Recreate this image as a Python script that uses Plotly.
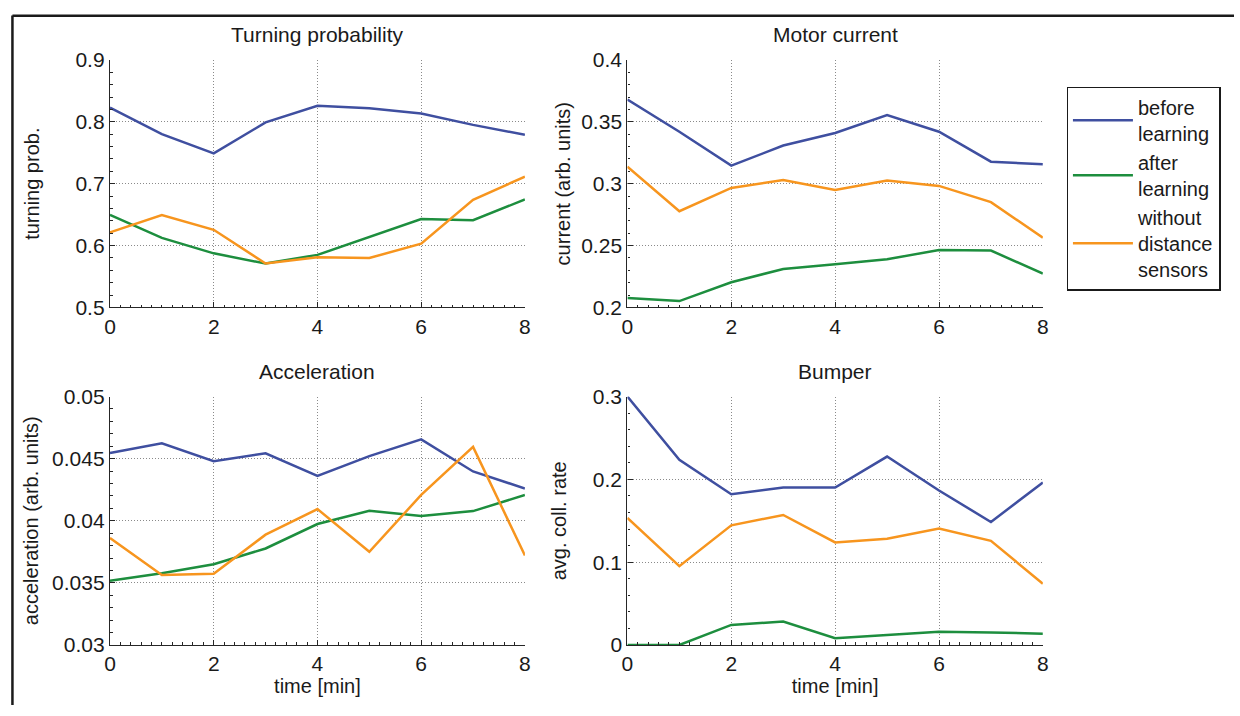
import plotly.graph_objects as go

time_min = [0, 1, 2, 3, 4, 5, 6, 7, 8]
series_names = ["before<br>learning", "after<br>learning", "without<br>distance<br>sensors"]
series_colors = ["#3f4fa0", "#1d8e3e", "#f7951e"]

# Turning probability
turn_before = [0.823, 0.780, 0.749, 0.799, 0.826, 0.822, 0.8135, 0.795, 0.779]
turn_after = [0.6495, 0.6125, 0.5875, 0.571, 0.585, 0.614, 0.643, 0.641, 0.6745]
turn_nosens = [0.6214, 0.6495, 0.6255, 0.571, 0.581, 0.580, 0.603, 0.674, 0.7115]

# Motor current
curr_before = [0.368, 0.342, 0.3146, 0.3308, 0.341, 0.3554, 0.342, 0.3178, 0.3157]
curr_after = [0.2076, 0.2052, 0.2204, 0.2311, 0.235, 0.2389, 0.2465, 0.246, 0.2274]
curr_nosens = [0.3138, 0.2778, 0.2966, 0.3029, 0.295, 0.3026, 0.2982, 0.2851, 0.2564]

# Acceleration
acc_before = [0.04545, 0.04623, 0.0448, 0.04543, 0.04361, 0.0452, 0.04655, 0.04397, 0.0426]
acc_after = [0.03517, 0.03577, 0.0365, 0.03777, 0.03974, 0.0408, 0.04039, 0.04078, 0.04208]
acc_nosens = [0.03862, 0.03564, 0.03574, 0.03888, 0.04094, 0.0375, 0.04208, 0.04595, 0.0372]

# Bumper
bump_before = [0.300, 0.2236, 0.182, 0.1901, 0.1901, 0.2275, 0.1866, 0.1485, 0.1963]
bump_after = [0.0, 0.0, 0.0242, 0.0284, 0.0082, 0.0121, 0.016, 0.0152, 0.0136]
bump_nosens = [0.1535, 0.0951, 0.1445, 0.157, 0.1239, 0.1282, 0.1406, 0.1258, 0.074]

panel_titles = ["Turning probability", "Motor current", "Acceleration", "Bumper"]
y_titles = ["turning prob.", "current (arb. units)", "acceleration (arb. units)", "avg. coll. rate"]
x_title = "time [min]"
y_ranges = [[0.5, 0.9], [0.2, 0.4], [0.03, 0.05], [0, 0.3]]
y_dticks = [0.1, 0.05, 0.005, 0.1]
y_tickfmt = [".1f", "", "", ""]
panels = [
    [turn_before, turn_after, turn_nosens],
    [curr_before, curr_after, curr_nosens],
    [acc_before, acc_after, acc_nosens],
    [bump_before, bump_after, bump_nosens],
]

FONT = "Liberation Sans, Arial, Helvetica, sans-serif"
TXT = "#1a1a1a"
W, H = 1240, 716
xdoms = [[105 / W, 524 / W], [627.5 / W, 1047 / W]]
ydoms = [[1 - 305.3 / H, 1 - 49.5 / H], [1 - 654 / H, 1 - 397.3 / H]]
title_std = [30, 5, 8, 20]

fig = go.Figure()
layout = {}
for i in range(4):
    r, c = divmod(i, 2)
    xa = "x" if i == 0 else f"x{i+1}"
    ya = "y" if i == 0 else f"y{i+1}"
    for k in range(3):
        fig.add_trace(go.Scatter(
            x=time_min, y=panels[i][k], mode="lines", xaxis=xa, yaxis=ya,
            name=series_names[k], legendgroup=str(k), showlegend=(i == 0),
            line=dict(color=series_colors[k], width=2.5), cliponaxis=False,
        ))
    common = dict(
        showline=True, linecolor="#262626", linewidth=1.3, mirror=False,
        showgrid=True, gridcolor="#8a8a8a", griddash="1px,2px", gridwidth=1,
        zeroline=False, ticks="inside", ticklen=5, tickcolor="#262626",
        tickfont=dict(family=FONT, size=21, color=TXT),
    )
    layout["xaxis" if i == 0 else f"xaxis{i+1}"] = dict(
        common, domain=xdoms[c], anchor=ya, range=[0, 8], dtick=2, tick0=0,
        minor=dict(dtick=0.2, ticks="inside", ticklen=2.5, tickcolor="#262626", showgrid=False),
        title=dict(text=x_title if r == 1 else "", font=dict(family=FONT, size=20, color=TXT), standoff=0),
    )
    layout["yaxis" if i == 0 else f"yaxis{i+1}"] = dict(
        common, domain=ydoms[r], anchor=xa, range=y_ranges[i], dtick=y_dticks[i], tick0=0,
        tickformat=y_tickfmt[i],
        minor=dict(dtick=y_dticks[i] / 5, ticks="inside", ticklen=2.5, tickcolor="#262626", showgrid=False),
        title=dict(text=y_titles[i], font=dict(family=FONT, size=20, color=TXT), standoff=title_std[i]),
    )
    layout.setdefault("annotations", []).append(dict(
        text=panel_titles[i], xref=f"{xa} domain", yref=f"{ya} domain", x=0.5, y=1,
        xanchor="center", yanchor="bottom", yshift=12, showarrow=False,
        font=dict(family=FONT, size=21, color=TXT),
    ))

fig.update_layout(**layout)
fig.update_layout(
    width=W, height=H, margin=dict(l=0, r=0, t=0, b=0),
    paper_bgcolor="white", plot_bgcolor="white",
    font=dict(family=FONT, size=20, color=TXT),
    legend=dict(
        x=1071 / W, y=1 - 77 / H, xanchor="left", yanchor="top",
        bordercolor=TXT, borderwidth=1.3, bgcolor="white",
        font=dict(family=FONT, size=20, color=TXT),
        itemwidth=60, valign="middle", tracegroupgap=0,
    ),
    shapes=[
        dict(type="line", xref="paper", yref="paper", x0=6.5 / W, x1=6.5 / W, y0=0, y1=1 - 3.5 / H,
             line=dict(color=TXT, width=2.5)),
        dict(type="line", xref="paper", yref="paper", x0=6.5 / W, x1=1, y0=1 - 4 / H, y1=1 - 4 / H,
             line=dict(color=TXT, width=2.5)),
    ],
)
fig.write_html(
    "out.html",
    config={"displayModeBar": False},
    post_script="document.body.style.margin='0';document.body.style.overflow='hidden';",
)
